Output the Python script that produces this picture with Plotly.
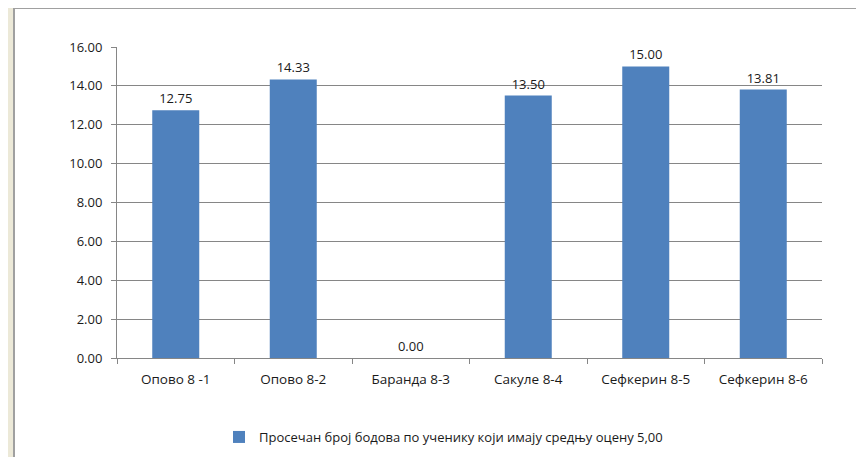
import plotly.graph_objects as go

# Data
categories = ["Опово 8 -1", "Опово 8-2", "Баранда 8-3", "Сакуле 8-4", "Сефкерин 8-5", "Сефкерин 8-6"]
values = [12.75, 14.33, 0.00, 13.50, 15.00, 13.81]
series_name = "Просечан број бодова по ученику који имају средњу оцену 5,00"

# page body adds an 8px offset, so positions are shifted back by that much
OFF = 8
W, H = 864, 457
L, T = 117 - OFF, 47 - OFF
R = W - (822 - OFF)
B = H - (358 - OFF)
pw, ph = W - L - R, H - T - B

fig = go.Figure()
fig.add_trace(go.Bar(
    x=categories,
    y=values,
    name=series_name,
    marker_color="#4F81BD",
    marker_line_width=0,
    text=[f"{v:.2f}" for v in values],
    textposition="outside",
    textfont=dict(size=13, color="#1a1a1a"),
    cliponaxis=False,
    showlegend=True,
))

# white chart panel with grey border over beige window background
fig.add_shape(
    type="rect", xref="paper", yref="paper", layer="below",
    x0=(14 - OFF - L) / pw, x1=(W + 20 - L) / pw,
    y0=(H - B - (H + 20)) / ph, y1=(H - B - (7 - OFF + 1)) / ph,
    fillcolor="white", line=dict(color="#A0A0A0", width=2),
)

fig.update_layout(
    width=W, height=H,
    margin=dict(l=L, r=R, t=T, b=B, autoexpand=False),
    paper_bgcolor="#ECE9D8",
    plot_bgcolor="white",
    font=dict(family="Open Sans, Liberation Sans, sans-serif", size=13, color="#1a1a1a"),
    bargap=0.6,
    showlegend=True,
    legend=dict(
        orientation="h", x=0.5 - 26 / pw, xanchor="center",
        yref="container", y=1 - (437 - OFF) / H, yanchor="middle",
        font=dict(size=13), bgcolor="rgba(0,0,0,0)",
    ),
)
fig.update_xaxes(
    automargin=False,
    showline=True, linecolor="#868686", linewidth=1,
    ticks="outside", tickson="boundaries", ticklen=5, tickcolor="#868686",
    ticklabelstandoff=9, tickfont=dict(size=13.5),
    showgrid=False,
)
fig.update_yaxes(
    automargin=False,
    range=[0, 16], dtick=2, tickformat=".2f",
    showline=True, linecolor="#868686", linewidth=1,
    ticks="outside", ticklen=5, tickcolor="#868686",
    ticklabelstandoff=6, tickfont=dict(size=13),
    showgrid=True, gridcolor="#868686", gridwidth=1,
    zeroline=False,
)

fig.write_html("out.html")
